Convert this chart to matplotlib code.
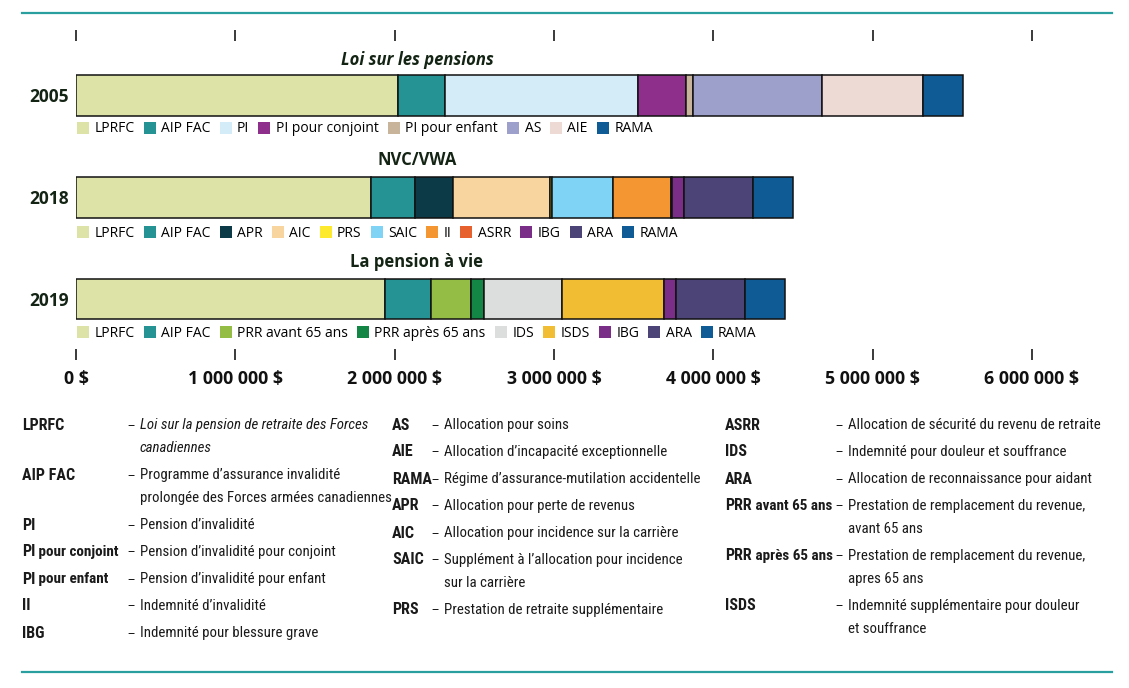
import matplotlib
matplotlib.use("Agg")
import matplotlib.pyplot as plt
from matplotlib import font_manager
from matplotlib.lines import Line2D
from matplotlib.patches import Patch


def has_font(name, **kw):
    try:
        path = font_manager.findfont(font_manager.FontProperties(family=name, **kw),
                                     fallback_to_default=False)
        return path
    except ValueError:
        return None


SANS = "Open Sans" if has_font("Open Sans") else "DejaVu Sans"

# condensed face for the glossary, if one is installed
NARROW = None
NARROW_KW = {}
for fam in ["Liberation Sans Narrow", "Roboto Condensed", "Open Sans Condensed",
            "Noto Sans Condensed", "DejaVu Sans Condensed"]:
    if has_font(fam):
        NARROW = fam
        break
if NARROW is None:
    for fam in ["Noto Sans", "DejaVu Sans", "Open Sans"]:
        p = has_font(fam, stretch="condensed")
        if p and "ondensed" in p:
            NARROW, NARROW_KW = fam, {"stretch": "condensed"}
            break
if NARROW is None:
    NARROW = "Lato" if has_font("Lato") else SANS

# ---- data -------------------------------------------------------------
years = ["2005", "2018", "2019"]
regimes = ["Loi sur les pensions", "NVC/VWA", "La pension à vie"]

cats_2005 = ["LPRFC", "AIP FAC", "PI", "PI pour conjoint", "PI pour enfant",
             "AS", "AIE", "RAMA"]
vals_2005 = [2023000, 296000, 1211000, 300000, 45000, 804000, 637000, 252000]

cats_2018 = ["LPRFC", "AIP FAC", "APR", "AIC", "PRS", "SAIC", "II", "ASRR",
             "IBG", "ARA", "RAMA"]
vals_2018 = [1854000, 274000, 238000, 610000, 13000, 384000, 361000, 8000,
             72000, 434000, 252000]

cats_2019 = ["LPRFC", "AIP FAC", "PRR avant 65 ans", "PRR après 65 ans",
             "IDS", "ISDS", "IBG", "ARA", "RAMA"]
vals_2019 = [1942000, 289000, 247000, 83000, 489000, 639000, 75000, 434000,
             250000]

x_ticks = [0, 1000000, 2000000, 3000000, 4000000, 5000000, 6000000]
x_tick_labels = ["0 $", "1 000 000 $", "2 000 000 $", "3 000 000 $",
                 "4 000 000 $", "5 000 000 $", "6 000 000 $"]

colors = {
    "LPRFC": "#dde3a6", "AIP FAC": "#259294", "PI": "#d3ecf8",
    "PI pour conjoint": "#8e2f8c", "PI pour enfant": "#c8b49a",
    "AS": "#9ea0cc", "AIE": "#eedad4", "RAMA": "#0e5b96",
    "APR": "#0d3a47", "AIC": "#f8d59e", "PRS": "#fde92e",
    "SAIC": "#7fd3f4", "II": "#f49632", "ASRR": "#e7612f",
    "IBG": "#7a2e87", "ARA": "#4c4377",
    "PRR avant 65 ans": "#93bd44", "PRR après 65 ans": "#138544",
    "IDS": "#dcdddd", "ISDS": "#f1bd33",
}

# glossary: (abbreviation, smaller suffix, description lines, italic)
gloss_col1 = [
    ("LPRFC", "", ["Loi sur la pension de retraite des Forces", "canadiennes"], True),
    ("AIP FAC", "", ["Programme d’assurance invalidité",
                     "prolongée des Forces armées canadiennes"], False),
    ("PI", "", ["Pension d’invalidité"], False),
    ("PI", "pour conjoint", ["Pension d’invalidité pour conjoint"], False),
    ("PI", "pour enfant", ["Pension d’invalidité pour enfant"], False),
    ("II", "", ["Indemnité d’invalidité"], False),
    ("IBG", "", ["Indemnité pour blessure grave"], False),
]
gloss_col2 = [
    ("AS", "", ["Allocation pour soins"], False),
    ("AIE", "", ["Allocation d’incapacité exceptionnelle"], False),
    ("RAMA", "", ["Régime d’assurance-mutilation accidentelle"], False),
    ("APR", "", ["Allocation pour perte de revenus"], False),
    ("AIC", "", ["Allocation pour incidence sur la carrière"], False),
    ("SAIC", "", ["Supplément à l’allocation pour incidence",
                  "sur la carrière"], False),
    ("PRS", "", ["Prestation de retraite supplémentaire"], False),
]
gloss_col3 = [
    ("ASRR", "", ["Allocation de sécurité du revenu de retraite"], False),
    ("IDS", "", ["Indemnité pour douleur et souffrance"], False),
    ("ARA", "", ["Allocation de reconnaissance pour aidant"], False),
    ("PRR", "avant 65 ans", ["Prestation de remplacement du revenue,",
                             "avant 65 ans"], False),
    ("PRR", "après 65 ans", ["Prestation de remplacement du revenue,",
                             "apres 65 ans"], False),
    ("ISDS", "", ["Indemnité supplémentaire pour douleur",
                  "et souffrance"], False),
]

# ---- figure -----------------------------------------------------------
W, H = 1129, 688
fig = plt.figure(figsize=(W / 100, H / 100), dpi=100)
renderer = fig.canvas.get_renderer()
TEAL = "#2a9fa0"
DARK = "#142414"
INK = "#1a1a1a"

for yy in (12.5, 671.5):
    fig.add_artist(Line2D([22 / W, 1112 / W], [1 - yy / H] * 2,
                          color=TEAL, lw=1.6))

ax = fig.add_axes([76 / W, 1 - 349 / H, 956 / W, 308 / H])
all_cats = [cats_2005, cats_2018, cats_2019]
all_vals = [vals_2005, vals_2018, vals_2019]
for i, (cats, vals) in enumerate(zip(all_cats, all_vals)):
    left = 0
    for c, v in zip(cats, vals):
        ax.barh(i, v, left=left, height=0.40, color=colors[c],
                edgecolor="#111111", linewidth=1.1)
        left += v

ax.set_xlim(0, 6000000)
ax.set_ylim(2.491, -0.533)
for s in ax.spines.values():
    s.set_visible(False)
ax.set_xticks(x_ticks)
ax.set_xticklabels(x_tick_labels, fontsize=12.8, fontweight="bold",
                   family=SANS, color="#111111")
ax.tick_params(axis="x", top=True, bottom=True, labeltop=False,
               direction="out", length=8, width=1.4, color="#3a3a3a", pad=7)
ax.set_yticks(range(len(years)))
ax.set_yticklabels(years, fontsize=12.5, fontweight="bold", family=SANS,
                   color=DARK)
ax.tick_params(axis="y", length=0, pad=5)

# regime titles
title_y = [60, 160, 262]
for i, name in enumerate(regimes):
    fig.text(417 / W, 1 - title_y[i] / H, name, ha="center", va="center",
             fontsize=12, fontweight="bold", family=SANS, color=DARK,
             style="italic" if i == 0 else "normal")

# legends under each bar
legend_y = [129, 233, 333]
for i, cats in enumerate(all_cats):
    handles = [Patch(facecolor=colors[c], edgecolor="none") for c in cats]
    fig.legend(handles, cats, loc="center left",
               bbox_to_anchor=(77 / W, 1 - legend_y[i] / H),
               ncol=len(cats), frameon=False, borderpad=0, borderaxespad=0,
               handlelength=0.86, handleheight=0.94, handletextpad=0.4,
               columnspacing=0.65, prop={"family": SANS, "size": 10})


# glossary: size the condensed text so its widths follow the reference
def text_width(s, **kw):
    t = fig.text(0, 0, s, **kw)
    w = t.get_window_extent(renderer).width
    t.remove()
    return w


body_size = 10 * 124 / text_width("Allocation pour soins", fontsize=10,
                                  family=NARROW, **NARROW_KW)
body_size = min(body_size, 11.6)
abbr_size = 10 * 42 / text_width("LPRFC", fontsize=10, fontweight="bold",
                                 family=NARROW, **NARROW_KW)
abbr_size = min(abbr_size, 12.5)


def glossary(col_x, dash_x, entries):
    y = 425
    for abbr, small, lines, italic in entries:
        t = fig.text(col_x / W, 1 - y / H, abbr, fontsize=abbr_size,
                     fontweight="bold", family=NARROW, va="center", color=INK,
                     **NARROW_KW)
        if small:
            bb = t.get_window_extent(renderer)
            fig.text(bb.x1 / W, 1 - y / H, " " + small,
                     fontsize=abbr_size * 0.95, fontweight="bold",
                     family=NARROW, va="center", color=INK, **NARROW_KW)
        fig.text(dash_x / W, 1 - y / H, "–", fontsize=body_size * 0.95,
                 family=SANS, va="center", color=INK)
        for k, line in enumerate(lines):
            fig.text((dash_x + 13) / W, 1 - (y + 23 * k) / H, line,
                     fontsize=body_size, family=NARROW, va="center",
                     style="italic" if italic else "normal", color=INK,
                     **NARROW_KW)
        y += 23 * (len(lines) - 1) + 27


glossary(22, 127, gloss_col1)
glossary(392, 431, gloss_col2)
glossary(725, 835, gloss_col3)

fig.savefig("out.png", dpi=100)
